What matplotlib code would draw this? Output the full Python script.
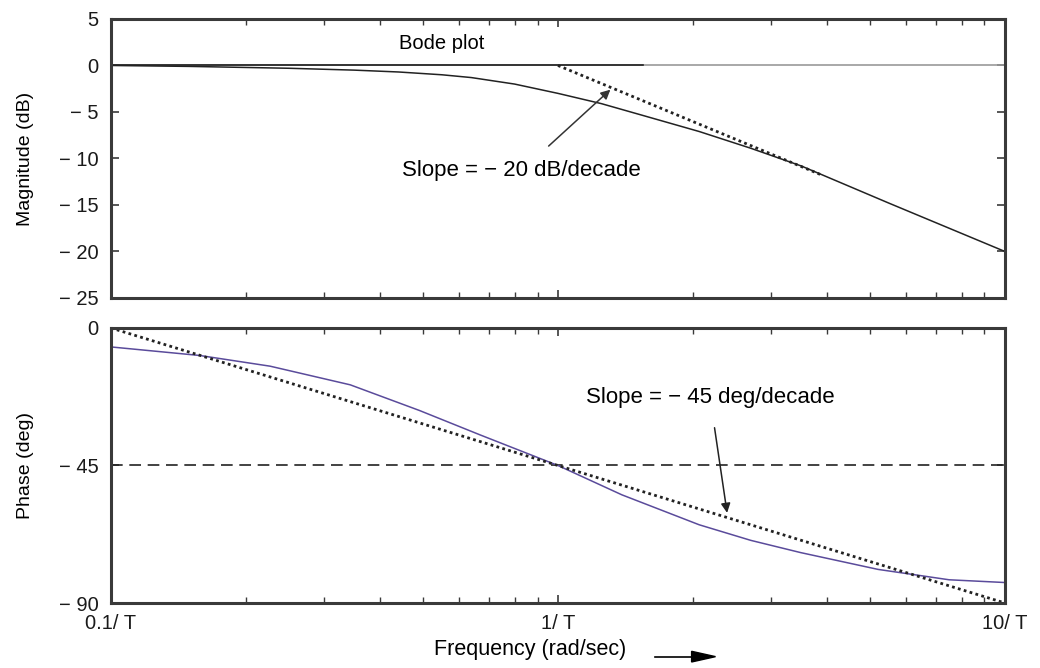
import numpy as np
import matplotlib.pyplot as plt
from matplotlib.ticker import FixedLocator, LogLocator, NullFormatter

plt.rcParams['font.family'] = ['Liberation Sans', 'DejaVu Sans']

# Datos (frecuencia normalizada w*T)
mag_w = [0.1, 0.15, 0.25, 0.35, 0.44, 0.55, 0.64, 0.8, 1.0, 1.25, 1.53, 2.07, 2.7, 3.5, 5.5, 10.0]
mag_db = [0.0, -0.1, -0.3, -0.5, -0.7, -1.0, -1.3, -2.0, -3.0, -4.1, -5.3, -7.1, -8.9, -10.8, -14.8, -20.0]

asym_mag_w = [1.0, 3.9]
asym_mag_db = [0.0, -11.8]

phase_w = [0.1, 0.158, 0.227, 0.343, 0.49, 0.67, 1.0, 1.39, 2.07, 2.7, 3.49, 5.2, 7.5, 10.0]
phase_deg = [-6.2, -9.0, -12.5, -18.6, -27.0, -35.0, -45.0, -54.6, -64.4, -69.5, -73.5, -79.0, -82.4, -83.3]

asym_phase_w = [0.1, 10.0]
asym_phase_deg = [0.0, -90.0]

mag_ticks = [5, 0, -5, -10, -15, -20, -25]
mag_labels = ['5', '0', '\u2212 5', '\u2212 10', '\u2212 15', '\u2212 20', '\u2212 25']
phase_ticks = [0, -45, -90]
phase_labels = ['0', '\u2212 45', '\u2212 90']
freq_ticks = [0.1, 1.0, 10.0]
freq_labels = ['0.1/ T', '1/ T', '10/ T']

fig = plt.figure(figsize=(10.4, 6.68), dpi=100)
ax1 = fig.add_axes([0.1067, 0.5539, 0.8596, 0.4177])
ax2 = fig.add_axes([0.1067, 0.0973, 0.8596, 0.4117])

spine_col = '#3a3a3a'
for ax in (ax1, ax2):
    ax.set_xscale('log')
    ax.set_xlim(0.1, 10)
    ax.xaxis.set_major_locator(FixedLocator(freq_ticks))
    ax.xaxis.set_minor_locator(LogLocator(base=10, subs=np.arange(2, 10)))
    ax.xaxis.set_minor_formatter(NullFormatter())
    ax.tick_params(which='both', direction='in', top=True, right=True,
                   colors=spine_col, labelcolor='#1a1a1a', labelsize=14.5)
    ax.tick_params(which='major', length=6, width=1.2)
    ax.tick_params(which='minor', length=4, width=1.0)
    ax.tick_params(axis='y', pad=9)
    for s in ax.spines.values():
        s.set_linewidth(2.2)
        s.set_color(spine_col)

# Magnitud
ax1.axhline(0, color='#9a9a9a', lw=1.2)
ax1.plot([0.1, 1.55], [0, 0], color='#222222', lw=1.2)
ax1.plot(mag_w, mag_db, color='#222222', lw=1.1)
ax1.plot(asym_mag_w, asym_mag_db, color='#222222', lw=2.0, linestyle=(0, (1, 1.2)))
ax1.set_ylim(-25, 5)
ax1.set_yticks(mag_ticks)
ax1.set_yticklabels(mag_labels)
ax1.set_xticklabels([])
ax1.set_ylabel('Magnitude (dB)', fontsize=14, labelpad=18)
ax1.text(0.55, 2.4, 'Bode plot', fontsize=14.5, ha='center', va='center')
ax1.annotate('Slope = \u2212 20 dB/decade', xy=(1.31, -2.6), xytext=(0.83, -11.3),
             fontsize=16, ha='center', va='center',
             arrowprops=dict(arrowstyle='-|>', color='#333333', lw=1.1,
                             mutation_scale=14, shrinkA=12, shrinkB=0))

# Fase
ax2.axhline(-45, color='#222222', lw=1.2, linestyle=(0, (7, 4)))
ax2.plot(phase_w, phase_deg, color='#5a4b9b', lw=1.1)
ax2.plot(asym_phase_w, asym_phase_deg, color='#222222', lw=2.0, linestyle=(0, (1, 1.2)))
ax2.set_ylim(-90, 0)
ax2.set_yticks(phase_ticks)
ax2.set_yticklabels(phase_labels)
ax2.set_xticklabels(freq_labels)
ax2.tick_params(axis='x', pad=8)
ax2.set_ylabel('Phase (deg)', fontsize=14, labelpad=18)
ax2.annotate('Slope = \u2212 45 deg/decade', xy=(2.39, -60.5), xytext=(2.19, -22.9),
             fontsize=16, ha='center', va='center',
             arrowprops=dict(arrowstyle='-|>', color='#222222', lw=1.1,
                             mutation_scale=14, shrinkA=12, shrinkB=0))

fig.text(0.51, 0.028, 'Frequency (rad/sec)', fontsize=15.5, ha='center', va='center')
fig.add_artist(plt.Line2D([0.63, 0.675], [0.017, 0.017], color='black', lw=1.2))
fig.patches.append(plt.Polygon([[0.665, 0.025], [0.665, 0.009], [0.688, 0.017]],
                               closed=True, color='black', transform=fig.transFigure, figure=fig))

fig.savefig('out.png', dpi=100)
